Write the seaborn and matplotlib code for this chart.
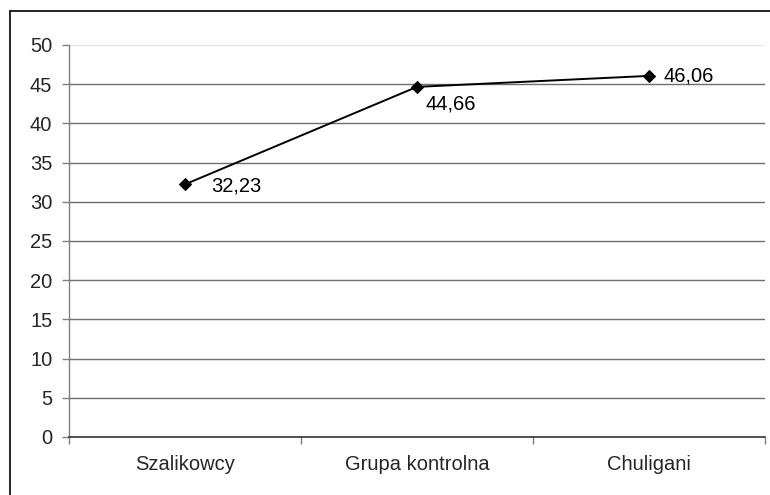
import matplotlib
matplotlib.use("Agg")
import matplotlib.pyplot as plt
from matplotlib.lines import Line2D
from matplotlib.ticker import FixedLocator, NullFormatter
import seaborn as sns
import pandas as pd

categories = ["Szalikowcy", "Grupa kontrolna", "Chuligani"]
values = [32.23, 44.66, 46.06]
label_texts = ["32,23", "44,66", "46,06"]
y_ticks = [0, 5, 10, 15, 20, 25, 30, 35, 40, 45, 50]

sns.set_style("white")
plt.rcParams["font.family"] = ["Liberation Sans", "DejaVu Sans"]

df = pd.DataFrame({"grupa": categories, "wynik": values})
df["pos"] = range(len(categories))

fig = plt.figure(figsize=(7.7, 4.95), dpi=100)
ax = fig.add_axes([69 / 770, 1 - 437 / 495, (765 - 69) / 770, (437 - 45) / 495])

sns.lineplot(data=df, x="pos", y="wynik", ax=ax, color="black", linewidth=1.4,
             marker="D", markersize=6.5, markeredgecolor="black", sort=False)

# value labels next to each point
offsets = [(26, -2), (8, -17), (14, 0)]
for x, y, txt, (dx, dy) in zip(df["pos"], values, label_texts, offsets):
    ax.annotate(txt, (x, y), xytext=(dx, dy), textcoords="offset pixels",
                ha="left", va="center", fontsize=14.5, color="black")

ax.set_xlim(-0.5, len(categories) - 0.5)
ax.set_ylim(0, 50)
ax.set_yticks(y_ticks)
ax.set_yticklabels([str(t) for t in y_ticks])

# category boundaries as major ticks, names on minor ticks
ax.xaxis.set_major_locator(FixedLocator([-0.5, 0.5, 1.5, 2.5]))
ax.xaxis.set_major_formatter(NullFormatter())
ax.xaxis.set_minor_locator(FixedLocator(list(df["pos"])))
ax.set_xticklabels(categories, minor=True)
ax.tick_params(axis="x", which="major", direction="out", length=5, width=1,
               color="#808080", bottom=True)
ax.tick_params(axis="x", which="minor", length=0, pad=13, labelsize=14.5, bottom=True)
ax.tick_params(axis="y", direction="out", length=5, width=1, color="#808080",
               pad=7, labelsize=14.5, left=True)
ax.set_xlabel("")
ax.set_ylabel("")

ax.grid(axis="y", color="#6e6e6e", linewidth=1)
ax.grid(axis="x", visible=False)
ax.set_axisbelow(True)
gl = ax.get_ygridlines()
gl[-1].set_color("#e6e6e6")

for side in ["top", "right"]:
    ax.spines[side].set_visible(False)
ax.spines["left"].set_color("#808080")
ax.spines["left"].set_linewidth(1)
ax.spines["bottom"].set_color("#333333")
ax.spines["bottom"].set_linewidth(1.2)

# chart frame
fig.add_artist(Line2D([10 / 770, 10 / 770], [0, 1 - 11 / 495], color="black",
                      linewidth=1.2, transform=fig.transFigure))
fig.add_artist(Line2D([10 / 770, 1], [1 - 11 / 495, 1 - 11 / 495], color="black",
                      linewidth=1.2, transform=fig.transFigure))

fig.savefig("out.png", dpi=100, facecolor="white")
